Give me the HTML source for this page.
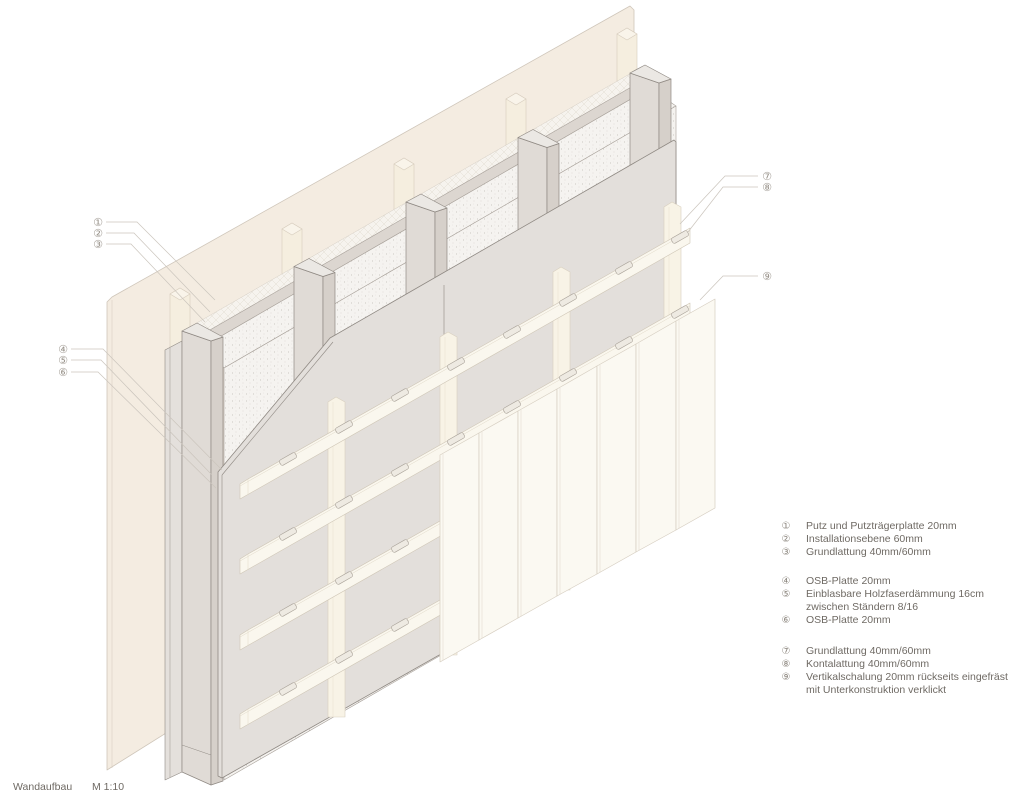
<!DOCTYPE html>
<html><head><meta charset="utf-8"><style>
html,body{margin:0;padding:0;background:#fff;}
svg{display:block;font-family:"Liberation Sans",sans-serif;}
</style></head><body>
<svg width="1024" height="805" viewBox="0 0 1024 805" xmlns="http://www.w3.org/2000/svg">
<defs>
<pattern id="sp" width="7" height="7" patternUnits="userSpaceOnUse">
<rect width="7" height="7" fill="#f5f3f0"/>
<circle cx="1.5" cy="2" r="0.45" fill="#b9b3ac"/><circle cx="5" cy="5" r="0.4" fill="#c6c0b9"/><circle cx="4.5" cy="1" r="0.3" fill="#cfc9c2"/>
</pattern>
<pattern id="hx" width="8" height="8" patternUnits="userSpaceOnUse">
<rect width="8" height="8" fill="#f6f3ee"/>
<path d="M0 0L8 8M8 0L0 8" stroke="#e2dcd3" stroke-width="0.5"/>
</pattern>
</defs>
<g stroke-linejoin="round">
<!-- back board -->
<polygon points="107,302 112,297 630,6 634,10 634,440 107,770" fill="#f4ece1" stroke="#cfc6ba" stroke-width="0.8"/>
<line x1="112" y1="300" x2="112" y2="768" stroke="#d8cfc3" stroke-width="0.6"/>
<!-- back battens -->
<g fill="#f5eedf" stroke="#d6ccbd" stroke-width="0.6">
<g id="bb"><polygon points="170,294 180,288 190,294 190,420 170,420"/><polygon points="170,294 180,288 190,294 180,300" fill="#f9f4ea"/></g>
<use href="#bb" transform="translate(112,-65)"/>
<use href="#bb" transform="translate(224,-130)"/>
<use href="#bb" transform="translate(336,-195)"/>
<use href="#bb" transform="translate(447,-260)"/>
</g>
<!-- installation hatch layer -->
<polygon points="188,328 640,68 640,85 196,340" fill="url(#hx)" stroke="#d6cfc5" stroke-width="0.5"/>
<!-- back OSB strip -->
<polygon points="196,338 640,82 650,88 204,346" fill="#dcd6d0" stroke="#a8a19a" stroke-width="0.6"/>
<!-- insulation top face and front -->
<polygon points="204,346 650,88 676,106 224,368" fill="url(#sp)" stroke="#a8a19a" stroke-width="0.6"/>
<polygon points="224,368 676,106 676,520 224,780" fill="url(#sp)" stroke="#a8a19a" stroke-width="0.6"/>
<!-- studs back (k=1..4) -->
<g stroke="#8f8983" stroke-width="0.7">
<g transform="translate(112,-64.5)"><polygon points="182,331 211,341 211,460 182,450" fill="#e0dbd6"/><polygon points="211,341 223,337 223,456 211,460" fill="#d6d0ca"/><polygon points="182,331 197,323 223,337 211,341" fill="#ebe8e4"/></g>
<g transform="translate(224,-129)"><polygon points="182,331 211,341 211,460 182,450" fill="#e0dbd6"/><polygon points="211,341 223,337 223,456 211,460" fill="#d6d0ca"/><polygon points="182,331 197,323 223,337 211,341" fill="#ebe8e4"/></g>
<g transform="translate(336,-193.5)"><polygon points="182,331 211,341 211,460 182,450" fill="#e0dbd6"/><polygon points="211,341 223,337 223,456 211,460" fill="#d6d0ca"/><polygon points="182,331 197,323 223,337 211,341" fill="#ebe8e4"/></g>
<g transform="translate(448,-258)"><polygon points="182,331 211,341 211,460 182,450" fill="#e0dbd6"/><polygon points="211,341 223,337 223,456 211,460" fill="#d6d0ca"/><polygon points="182,331 197,323 223,337 211,341" fill="#ebe8e4"/></g>
</g>
<!-- left thin OSB layer -->
<polygon points="165,350 182,341 182,772 165,780" fill="#e4e0dc" stroke="#8f8983" stroke-width="0.6"/>
<line x1="170" y1="348" x2="170" y2="777" stroke="#9c958f" stroke-width="0.5"/>
<!-- stud 0 -->
<g stroke="#8f8983" stroke-width="0.7">
<polygon points="182,331 211,341 211,785 182,772" fill="#e0dbd6"/>
<polygon points="211,341 223,337 223,781 211,785" fill="#d6d0ca"/>
<polygon points="182,331 197,323 223,337 211,341" fill="#ebe8e4"/>
<line x1="182" y1="745" x2="211" y2="755" stroke-width="0.5"/>
</g>
<!-- front OSB -->
<polygon points="218,472 330,338 674,140 676,142 676,521 222,778 218,776" fill="#e3dfdb" stroke="#8f8983" stroke-width="0.8"/>
<polyline points="222,475 333,342" fill="none" stroke="#8f8983" stroke-width="0.6"/>
<line x1="222" y1="475" x2="222" y2="778" stroke="#8f8983" stroke-width="0.6"/>
<line x1="444" y1="285" x2="444" y2="655" stroke="#8f8983" stroke-width="0.6"/>
<!-- vertical battens -->
<g fill="#f8f3e6" stroke="#d8cfbf" stroke-width="0.6">
<polygon points="328,402 336,397 345,402 345,717 328,717"/>
<polygon points="440,337 448,332 457,337 457,655 440,655"/>
<polygon points="553,272 561,267 570,272 570,590 553,590"/>
<polygon points="664,207 672,202 681,207 681,525 664,525"/>
</g>
<g stroke="#e6dfd0" stroke-width="0.5"><line x1="333" y1="402" x2="333" y2="717"/><line x1="445" y1="337" x2="445" y2="655"/><line x1="558" y1="272" x2="558" y2="590"/><line x1="669" y1="207" x2="669" y2="525"/></g>
<!-- horizontal battens -->
<g fill="#faf7ee" stroke="#cfc6b6" stroke-width="0.6">
<polygon points="240,484 248,479 690,228 690,243 240,499"/>
<polygon points="240,559 248,554 690,303 690,318 240,574"/>
<polygon points="240,635 248,630 690,379 690,394 240,650"/>
<polygon points="240,714 248,709 690,458 690,473 240,729"/>
</g>
<g stroke="#e0d8c8" stroke-width="0.5">
<line x1="240" y1="486" x2="690" y2="231"/><line x1="240" y1="561" x2="690" y2="306"/><line x1="240" y1="637" x2="690" y2="382"/><line x1="240" y1="716" x2="690" y2="461"/>
<line x1="248" y1="479" x2="248" y2="495"/><line x1="248" y1="554" x2="248" y2="570"/><line x1="248" y1="630" x2="248" y2="646"/><line x1="248" y1="709" x2="248" y2="725"/>
</g>
<!-- clips -->
<g fill="#eeeae2" stroke="#a9a299" stroke-width="0.6">
<g id="c1"><rect x="-9" y="-3" width="18" height="6" rx="2" transform="translate(288,459) rotate(-29.5)"/><rect x="-9" y="-3" width="18" height="6" rx="2" transform="translate(344,427) rotate(-29.5)"/><rect x="-9" y="-3" width="18" height="6" rx="2" transform="translate(400,395) rotate(-29.5)"/><rect x="-9" y="-3" width="18" height="6" rx="2" transform="translate(456,364) rotate(-29.5)"/><rect x="-9" y="-3" width="18" height="6" rx="2" transform="translate(512,332) rotate(-29.5)"/><rect x="-9" y="-3" width="18" height="6" rx="2" transform="translate(568,300) rotate(-29.5)"/><rect x="-9" y="-3" width="18" height="6" rx="2" transform="translate(624,268) rotate(-29.5)"/><rect x="-9" y="-3" width="18" height="6" rx="2" transform="translate(680,237) rotate(-29.5)"/></g>
<use href="#c1" transform="translate(0,75)"/>
<use href="#c1" transform="translate(0,151)"/>
<use href="#c1" transform="translate(0,230)"/>
</g>
<!-- cladding boards -->
<g fill="#fbf9f2" stroke="#d6cec1" stroke-width="0.7">
<polygon points="440,455 479,433 479,640 440,662"/>
<polygon points="479,433 518,411 518,618 479,640"/>
<polygon points="518,411 557,389 557,596 518,618"/>
<polygon points="557,389 597,366 597,574 557,596"/>
<polygon points="597,366 636,344 636,552 597,574"/>
<polygon points="636,344 676,321 676,530 636,552"/>
<polygon points="676,321 715,299 715,508 676,530"/>
</g>
<g stroke="#e3dccf" stroke-width="0.6">
<line x1="443" y1="454" x2="443" y2="660"/><line x1="482" y1="432" x2="482" y2="638"/><line x1="521" y1="410" x2="521" y2="616"/><line x1="560" y1="388" x2="560" y2="594"/><line x1="600" y1="365" x2="600" y2="572"/><line x1="639" y1="343" x2="639" y2="550"/><line x1="679" y1="320" x2="679" y2="528"/>
</g>
</g>
<!-- leader lines -->
<g fill="none" stroke="#cbc5bd" stroke-width="0.7">
<polyline points="106,222 137,222 215,300"/>
<polyline points="106,233 134,233 210,312"/>
<polyline points="106,244 131,244 205,322"/>
<polyline points="71,349 103,349 222,470"/>
<polyline points="71,360 101,360 212,475"/>
<polyline points="71,372 98,372 216,488"/>
<polyline points="758,176 725,176 680,224"/>
<polyline points="758,187 723,187 688,232"/>
<polyline points="758,276 723,276 700,300"/>
</g>
<g font-size="11" fill="#9a948c" font-family="'DejaVu Sans',sans-serif" text-anchor="middle">
<text x="98" y="226">①</text><text x="98" y="237">②</text><text x="98" y="248">③</text>
<text x="63" y="353">④</text><text x="63" y="364">⑤</text><text x="63" y="376">⑥</text>
<text x="767" y="180">⑦</text><text x="767" y="191">⑧</text><text x="767" y="280">⑨</text>
</g>
<!-- legend -->
<g font-size="10" fill="#8a847c" font-family="'DejaVu Sans',sans-serif" text-anchor="middle">
<text x="786" y="529">①</text><text x="786" y="542">②</text><text x="786" y="555">③</text>
<text x="786" y="584">④</text><text x="786" y="597">⑤</text><text x="786" y="623">⑥</text>
<text x="786" y="654">⑦</text><text x="786" y="667">⑧</text><text x="786" y="680">⑨</text>
</g>
<g font-size="10.5" fill="#6f6a64">
<text x="806" y="529">Putz und Putzträgerplatte 20mm</text>
<text x="806" y="542">Installationsebene 60mm</text>
<text x="806" y="555">Grundlattung 40mm/60mm</text>
<text x="806" y="584">OSB-Platte 20mm</text>
<text x="806" y="597">Einblasbare Holzfaserdämmung 16cm</text>
<text x="806" y="610">zwischen Ständern 8/16</text>
<text x="806" y="623">OSB-Platte 20mm</text>
<text x="806" y="654">Grundlattung 40mm/60mm</text>
<text x="806" y="667">Kontalattung 40mm/60mm</text>
<text x="806" y="680">Vertikalschalung 20mm rückseits eingefräst</text>
<text x="806" y="693">mit Unterkonstruktion verklickt</text>
<text x="13" y="790">Wandaufbau</text>
<text x="92" y="790">M 1:10</text>
</g>
</svg>
</body></html>
